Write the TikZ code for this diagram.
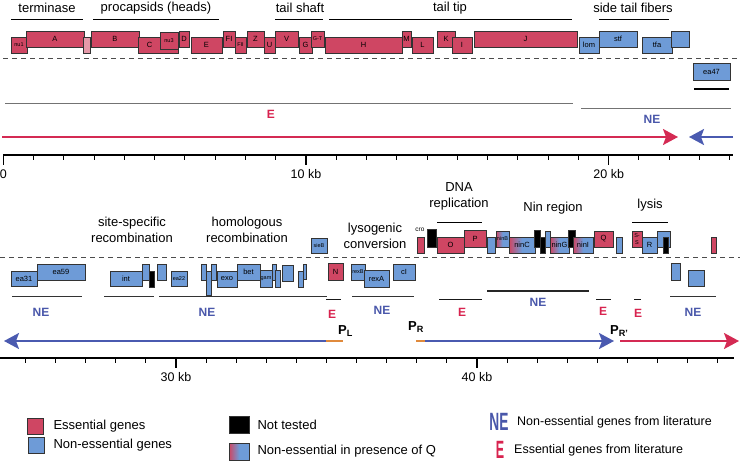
\documentclass[tikz,border=0pt]{standalone}
\usepackage{fontspec}
\setmainfont{Liberation Sans}
\usepackage{graphicx}
\usepackage{tikz}
\usetikzlibrary{arrows.meta,calc,positioning}
\definecolor{esscol}{HTML}{CF4663}
\definecolor{necol}{HTML}{6E9BD7}
\definecolor{etxt}{HTML}{D8234F}
\definecolor{netxt}{HTML}{4957AA}
\definecolor{redarr}{HTML}{D42A53}
\definecolor{bluearr}{HTML}{4A5AB0}
\definecolor{prom}{HTML}{E08A3C}
\newcommand{\sm}[1]{{\fontsize{5.5}{5.5}\selectfont #1}}

\begin{document}
\begin{tikzpicture}[x=1pt,y=-1pt,
  gene/.style={draw=black!80,line width=0.6pt,inner sep=0pt,align=center,
               font=\fontsize{7.5}{7.5}\selectfont},
  ess/.style={fill=esscol}, nes/.style={fill=necol}, ntd/.style={fill=black},
  lgt/.style={fill=esscol!55!white},
  qgr/.style={left color=esscol,right color=necol,middle color=necol},
  hd/.style={font=\fontsize{13}{16}\selectfont,align=center,inner sep=0pt},
  lit/.style={font=\fontsize{12}{12}\selectfont\bfseries,text=#1,inner sep=0pt},
  lit/.default=etxt,
  uline/.style={draw=black,line width=0.8pt},
  region/.style={draw=black!#1,line width=0.9pt},
  region/.default=55,
  gaxis/.style={line width=1.3pt,line cap=rect},
  genarr/.style={line width=2pt,draw=#1,-{Stealth[length=15pt,width=16pt,inset=3pt]}},
  lgbox/.style={draw=black!80,line width=0.6pt,minimum width=16pt,minimum height=16pt,inner sep=0pt},
  lgtxt/.style={font=\fontsize{13}{13}\selectfont,anchor=west,inner sep=0pt}]
  \useasboundingbox (0,0) rectangle (740,467);

  % ---------- top half: 0 - 24 kb ----------
  \node[hd] (hterm) at (47,8) {terminase};
  \node[hd] (hcaps) at (156,8) {procapsids (heads)};
  \node[hd] (hshaft) at (300,8) {tail shaft};
  \node[hd] (htip) at (450,8) {tail tip};
  \node[hd] (hfib) at (633,8) {side tail fibers};
  \foreach \a/\b in {11/83,93/219,275/323,329/572,599/669}
    \draw[uline] (\a,19) -- (\b,19);

  \foreach \a/\b/\c/\d/\k/\t [count=\i] in {
    11/27/37/53/ess/\sm{nu1}, 26/84/31/47/ess/A, 83/90/37/53/lgt/{},
    91/139/31/47/ess/B, 138/178/37/53/ess/C\hspace{17pt}, 160/178/32/49/ess/\sm{nu3},
    179/189/31/47/ess/D, 191/222/37/53/ess/E, 223/235/31/47/ess/FI,
    235/246/37/53/ess/\sm{FII}, 247/264/31/47/ess/Z, 264/275/37/53/ess/U,
    275/298/31/47/ess/V, 299/312/37/53/ess/G, 311/324/31/47/ess/\sm{G-T},
    325/402/37/53/ess/H, 402/411/31/47/ess/M, 412/433/37/53/ess/L,
    437/455/31/47/ess/K, 452/472/37/53/ess/I, 474/577/31/47/ess/J,
    579/599/37/53/nes/lom, 599/637/31/47/nes/stf, 642/672/37/53/nes/tfa,
    671/689/31/47/nes/{}, 693/730/63/80/nes/ea47}
    \node[gene,\k,minimum width={(\b-\a)*1pt},minimum height={(\d-\c)*1pt}]
      (tg\i) at ({(\a+\b)/2},{(\c+\d)/2}) {\t};

  \draw[black!70,line width=0.8pt,dash pattern=on 5pt off 4pt] (3,58) -- (740,58);
  \draw[line width=2pt] (694,89) -- (729,89);
  \draw[region] (5,103) -- (573,103);
  \draw[region] (581,108) -- (731,108);
  \node[lit] (te1) at (271,114) {E};
  \node[lit=netxt] (tne1) at (652,119) {NE};

  \coordinate (late0) at (2,137);
  \coordinate (late1) at (678,137);
  \coordinate (ea0) at (733,137);
  \coordinate (ea1) at (689,137);
  \draw[genarr=redarr] (late0) -- (late1);
  \draw[genarr=bluearr] (ea0) -- (ea1);

  \draw[gaxis] (3.3,155) -- (732,155);
  \foreach \k in {0,...,24}
    \draw[line width=1pt] (3.3+\k*30.27,155) -- ++(0,5);
  \foreach \k/\t in {0/0,10/10 kb,20/20 kb} {
    \draw[line width=1.3pt] (3.3+\k*30.27,155) -- ++(0,10);
    \node[font=\fontsize{12.5}{12.5}\selectfont,inner sep=0pt] (ta\k) at (3.3+\k*30.27,174) {\t};
  }

  % ---------- bottom half: 24 - 48.5 kb ----------
  \node[hd] (hsite) at (132,230) {site-specific\\recombination};
  \node[hd] (hhom) at (247,230) {homologous\\recombination};
  \node[hd] (hlys) at (375,236) {lysogenic\\conversion};
  \node[hd] (hdna) at (459,196) {DNA\\replication};
  \node[hd] (hnin) at (553,208) {Nin region};
  \node[hd] (hlysis) at (650,205) {lysis};
  \node[font=\fontsize{6.5}{6.5}\selectfont,inner sep=0pt] (hcro) at (420,230) {cro};
  \draw[uline] (437,222) -- (482,222);
  \draw[uline] (632,222) -- (668,222);

  \foreach \a/\b/\c/\d/\k/\t [count=\i] in {
    11/37/271/286/nes/ea31, 37/85/264/280/nes/ea59, 110/142/271/286/nes/int,
    142/149/264/280/nes/{}, 149/154/271/287/ntd/{}, 157/166/264/280/nes/{},
    171/187/271/286/nes/\sm{ea22}, 201/206/264/280/nes/{}, 206/211/271/295/nes/{},
    211/216/264/280/nes/{}, 217/237/271/287/nes/exo, 237/260/264/280/nes/bet,
    260/272/270/287/nes/\sm{gam}, 272/276/264/280/nes/{}, 275/280/270/287/nes/{},
    282/293/265/281/nes/{}, 298/303/271/287/nes/{}, 303/306/264/279/nes/{},
    311/327/238/253/nes/\sm{sieB}, 328/343/263/280/ess/N, 351/365/264/280/nes/\sm{rexB},
    364/389/270/287/nes/rexA, 393/415/264/280/nes/cI, 417/424/237/253/ess/{},
    427/436/229/247/ntd/{}, 437/464/237/253/ess/O, 464/486/230/247/ess/P,
    487/495/237/253/nes/{}, 496/509/231/247/qgr/\sm{ninB}, 509/535/237/253/qgr/ninC,
    534/540/230/247/ntd/{}, 540/545/237/253/ntd/{}, 545/550/231/247/nes/{},
    550/569/237/253/qgr/ninG, 568/575/230/247/ntd/{}, 573/593/237/253/qgr/ninI,
    594/613/231/247/ess/Q, 616/622/237/253/nes/{}, 632/642/231/247/ess/{\sm{S-}\\\sm{S}},
    642/657/237/253/nes/R, 657/670/231/247/nes/{}, 663/668/237/253/ntd/{},
    711/716/237/253/ess/{}, 671/680/263/280/nes/{}, 688/704/270/286/nes/{}}
    \node[gene,\k,minimum width={(\b-\a)*1pt},minimum height={(\d-\c)*1pt}]
      (bg\i) at ({(\a+\b)/2},{(\c+\d)/2}) {\t};

  \draw[black!70,line width=0.8pt,dash pattern=on 5pt off 4pt] (0,257) -- (740,257);
  \foreach \a/\b in {12/82,104/154,159/327,352/414,670/716}
    \draw[region=80] (\a,296) -- (\b,296);
  \foreach \a/\b in {439/482,596/611,634/641,326/341}
    \draw[region=90] (\a,299) -- (\b,299);
  \draw[region=85,line width=1.6pt] (487,291) -- (589,291);
  \node[lit=netxt] (bne1) at (41,312) {NE};
  \node[lit=netxt] (bne2) at (207,312) {NE};
  \node[lit] (be1) at (332,314) {E};
  \node[lit=netxt] (bne3) at (382,310) {NE};
  \node[lit] (be2) at (462,312) {E};
  \node[lit=netxt] (bne4) at (538,302) {NE};
  \node[lit] (be3) at (603,311) {E};
  \node[lit] (be4) at (638,313) {E};
  \node[lit=netxt] (bne5) at (693,312) {NE};

  \node[font=\fontsize{13}{13}\selectfont\bfseries,inner sep=0pt,anchor=west] (pl) at (338,331) {P\textsubscript{L}};
  \node[font=\fontsize{13}{13}\selectfont\bfseries,inner sep=0pt,anchor=west] (pr) at (408,327) {P\textsubscript{R}};
  \node[font=\fontsize{13}{13}\selectfont\bfseries,inner sep=0pt,anchor=west] (prp) at (610,331) {P\textsubscript{R'}};

  \coordinate (plA) at (343,341);
  \coordinate (plB) at (326,341);
  \coordinate (plT) at (4,341);
  \coordinate (prA) at (416,341);
  \coordinate (prB) at (425,341);
  \coordinate (prT) at (614,341);
  \coordinate (lyA) at (620,341);
  \coordinate (lyT) at (739,341);
  \draw[genarr=bluearr] (plB) -- (plT);
  \draw[prom,line width=2pt] (plB) -- (plA);
  \draw[genarr=bluearr] (prB) -- (prT);
  \draw[prom,line width=2pt] (prA) -- (prB);
  \draw[genarr=redarr] (lyA) -- (lyT);

  \draw[gaxis] (0,358) -- (733,358);
  \foreach \k in {25,...,48}
    \draw[line width=1pt] (176+\k*30.1-903,358) -- ++(0,5);
  \foreach \k in {30,40} {
    \draw[line width=1.3pt] (176+\k*30.1-903,358) -- ++(0,10);
    \node[font=\fontsize{12.5}{12.5}\selectfont,inner sep=0pt] (ba\k) at (176+\k*30.1-903,377) {\k\ kb};
  }

  % ---------- legend ----------
  \node[lgbox,ess] (kess) at (35,426) {};
  \node[lgtxt,right=10pt of kess] (kesst) {Essential genes};
  \node[lgbox,nes] (knes) at (36,445) {};
  \node[lgtxt,right=9pt of knes] (knest) {Non-essential genes};
  \node[lgbox,ntd,minimum width=20pt,minimum height=17pt] (kntd) at (239,424.5) {};
  \node[lgtxt,right=8pt of kntd] (kntdt) {Not tested};
  \node[lgbox,qgr,minimum width=20pt,minimum height=17pt] (kq) at (239,451.5) {};
  \node[lgtxt,right=8pt of kq] (kqt) {Non-essential in presence of Q};
  \node[inner sep=0pt,text=netxt] (klne) at (499,422) {\scalebox{0.55}[1]{\fontsize{25}{25}\selectfont\bfseries NE}};
  \node[lgtxt,font=\fontsize{12.5}{12.5}\selectfont] (klnet) at (517,422) {Non-essential genes from literature};
  \node[inner sep=0pt,text=etxt] (kle) at (500,450) {\scalebox{0.5}[1]{\fontsize{25}{25}\selectfont\bfseries E}};
  \node[lgtxt,font=\fontsize{12.5}{12.5}\selectfont] (klet) at (514,450) {Essential genes from literature};
\end{tikzpicture}
\end{document}
